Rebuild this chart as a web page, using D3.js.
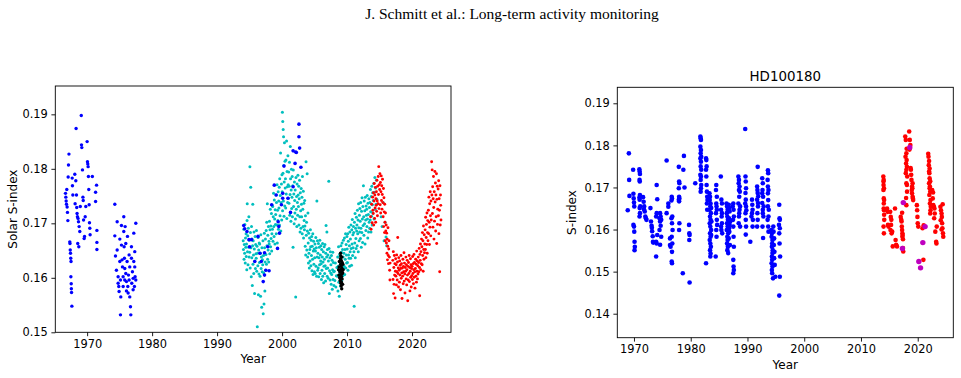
<!DOCTYPE html>
<html>
<head>
<meta charset="utf-8">
<script src="https://cdn.jsdelivr.net/npm/d3@7"></script>
<style>
  body { margin: 0; background: #fff; }
  svg { display: block; }
  text { font-family: "DejaVu Sans", sans-serif; }
</style>
</head>
<body>
<script>
// page size
const width = 961,
  height = 378;

// ---- data: solar S-index ([year, S]) ----
const solarBlueEarly = [
  [1966.67,.1755],[1966.72,.1748],[1966.77,.1741],[1966.82,.1735],[1966.87,.1762],[1966.92,.1730],[1966.97,.1720],
  [1967.03,.1705],[1967.08,.1785],[1967.13,.1807],[1967.2,.1827],[1967.33,.1666],[1967.36,.1663],[1967.4,.1651],
  [1967.44,.1645],[1967.48,.1636],[1967.52,.1630],[1967.5,.1602],[1967.55,.1589],[1967.57,.1580],[1967.6,.1573],
  [1967.65,.1548],[1967.7,.1783],[1967.74,.1769],[1967.8,.1752],
  [1968.1,.1790],[1968.15,.1736],[1968.26,.1778],[1968.3,.1874],[1968.36,.1752],[1968.4,.1729],[1968.45,.1718],
  [1968.51,.1712],[1968.55,.1663],[1968.6,.1709],[1968.67,.1703],[1968.72,.1657],[1968.77,.1694],[1968.87,.1685],
  [1968.95,.1731],[1969.1,.1898],[1969.13,.1844],[1969.18,.1839],[1969.28,.1798],[1969.35,.1748],[1969.4,.1742],
  [1969.45,.1706],[1969.54,.1672],[1969.6,.1676],[1969.7,.1712],[1969.79,.1731],
  [1970.0,.1850],[1970.05,.1813],[1970.1,.1809],[1970.15,.1804],[1970.2,.1786],[1970.25,.1762],[1970.31,.1734],
  [1970.36,.1701],[1970.41,.1691],[1970.46,.1679],[1970.8,.1786],[1971.45,.1770],[1971.3,.1757],[1971.3,.1740],
  [1971.5,.1687],[1971.5,.1665],[1971.5,.1652],
  [1974.26,.1735],[1974.26,.1677],[1974.36,.1640],[1974.51,.1614],[1974.62,.1703],[1974.62,.1651],[1974.77,.1602],
  [1974.77,.1590],[1974.87,.1584],[1974.92,.1575],[1975.03,.1671],[1975.03,.1630],[1975.13,.1532],[1975.13,.1596],
  [1975.18,.1565],[1975.28,.1696],[1975.28,.1660],[1975.38,.1633],[1975.44,.1620],[1975.54,.1602],[1975.54,.1584],
  [1975.64,.1685],[1975.64,.1712],[1975.69,.1657],[1975.74,.1636],[1975.79,.1617],[1975.79,.1596],[1975.85,.1694],
  [1975.95,.1663],[1975.95,.1608],[1976.05,.1593],[1976.05,.1576],[1976.15,.1630],[1976.21,.1676],[1976.26,.1584],
  [1976.31,.1572],[1976.36,.1605],[1976.46,.1642],[1976.46,.1596],[1976.56,.1620],[1976.56,.1565],[1976.67,.1547],
  [1976.72,.1532],[1976.82,.1657],[1976.82,.1636],[1976.87,.1590],[1976.97,.1611],[1977.08,.1599],[1977.08,.1578],
  [1977.18,.1682],[1977.18,.1630],[1977.28,.1584],[1977.33,.1620],[1977.33,.1648],[1977.38,.1602],[1977.49,.1700],
  [1977.49,.1596]
];

const solarBlueLate = [
  [1994.1,.1696],[1994.25,.1690],[1994.6,.1685],[1994.9,.1670],[1995.0,.1657],[1995.3,.1670],[1995.8,.1630],
  [1996.3,.1676],[1996.6,.1645],[1996.8,.1630],[1997.1,.1593],[1997.3,.1605],[1997.5,.1614],[1998.0,.1613],
  [1997.3,.1646],[1997.8,.1657],[1998.4,.1734],[1998.8,.1770],[1999.1,.1752],[1999.3,.1654],[1999.5,.1694],
  [1999.6,.1682],[1999.9,.1734],[2000.1,.1746],[2000.1,.1755],[2000.3,.1805],[2000.9,.1746],[2001.3,.1720],
  [2001.7,.1767],[2001.7,.1833],[2002.0,.1810],[2002.2,.1830],[2002.6,.1882],[2002.6,.1859],[2002.7,.1838],
  [2002.9,.1803],[2002.1,.1831],[1999.4,.1703]
];

const solarCyan = [
  [1994.02,.1668],[1994.06,.1652],[1994.11,.1689],[1994.15,.1634],[1994.19,.1661],[1994.24,.1645],[1994.28,.1698],[1994.33,.1627],[1994.37,.1673],[1994.42,.1656],[1994.46,.1681],[1994.49,.1639],
  [1994.53,.1662],[1994.57,.1615],[1994.61,.1705],[1994.64,.1736],[1994.68,.1648],[1994.72,.1677],[1994.76,.1624],[1994.81,.1691],[1994.85,.1656],[1994.89,.1712],[1994.93,.1638],[1994.97,.1669],
  [1995.02,.1647],[1995.05,.1804],[1995.09,.1618],[1995.13,.1683],[1995.18,.1766],[1995.21,.1655],[1995.26,.1602],[1995.3,.1694],[1995.34,.1637],[1995.38,.1671],[1995.42,.1586],[1995.46,.1659],[1995.49,.1735],
  [1995.52,.1625],[1995.56,.1668],[1995.6,.1642],[1995.64,.1608],[1995.68,.1684],[1995.73,.1653],[1995.77,.1571],[1995.81,.1631],[1995.85,.1676],[1995.9,.1617],[1995.94,.1661],[1995.98,.1644],
  [1996.02,.1636],[1996.06,.1687],[1996.1,.1612],[1996.14,.1658],[1996.19,.1510],[1996.23,.1645],[1996.27,.1622],[1996.31,.1674],[1996.36,.1569],[1996.4,.1651],[1996.44,.1607],[1996.48,.1664],
  [1996.52,.1628],[1996.56,.1662],[1996.61,.1603],[1996.65,.1645],[1996.69,.1566],[1996.73,.1679],[1996.78,.1617],[1996.82,.1638],[1996.86,.1546],[1996.9,.1655],[1996.95,.1611],[1996.98,.1633],
  [1997.02,.1624],[1997.06,.1668],[1997.1,.1534],[1997.14,.1641],[1997.18,.1609],[1997.22,.1552],[1997.27,.1682],[1997.31,.1655],[1997.35,.1576],[1997.39,.1629],[1997.44,.1671],[1997.48,.1614],
  [1997.52,.1643],[1997.56,.1687],[1997.6,.1625],[1997.64,.1702],[1997.68,.1659],[1997.73,.1736],[1997.77,.1634],[1997.81,.1678],[1997.85,.1651],[1997.9,.1694],[1997.94,.1629],[1997.98,.1667],
  [1998.02,.1662],[1998.06,.1704],[1998.1,.1644],[1998.14,.1688],[1998.19,.1726],[1998.23,.1657],[1998.27,.1695],[1998.31,.1672],[1998.36,.1718],[1998.4,.1649],[1998.44,.1681],[1998.48,.1733],
  [1998.52,.1689],[1998.56,.1731],[1998.6,.1667],[1998.64,.1712],[1998.69,.1755],[1998.73,.1694],[1998.77,.1676],[1998.81,.1743],[1998.86,.1708],[1998.9,.1662],[1998.94,.1725],[1998.98,.1698],
  [1999.02,.1716],[1999.06,.1752],[1999.1,.1681],[1999.14,.1738],[1999.19,.1697],[1999.23,.1771],[1999.27,.1664],[1999.31,.1724],[1999.36,.1705],[1999.4,.1758],[1999.44,.1689],[1999.48,.1741],
  [1999.52,.1728],[1999.56,.1766],[1999.6,.1697],[1999.64,.1782],[1999.69,.1714],[1999.73,.1751],[1999.77,.1829],[1999.81,.1686],[1999.86,.1738],[1999.9,.1772],[1999.94,.1706],[1999.98,.1789],
  [2000.02,.1758],[2000.05,.1904],[2000.08,.1723],[2000.11,.1887],[2000.14,.1792],[2000.17,.1872],[2000.2,.1741],[2000.23,.1859],[2000.26,.1806],[2000.3,.1713],[2000.33,.1776],[2000.37,.1848],[2000.41,.1732],[2000.45,.1814],[2000.48,.1765],
  [2000.52,.1782],[2000.56,.1728],[2000.6,.1816],[2000.64,.1754],[2000.69,.1851],[2000.73,.1709],[2000.77,.1795],[2000.81,.1767],[2000.86,.1738],[2000.9,.1824],[2000.94,.1771],[2000.98,.1746],
  [2001.02,.1794],[2001.06,.1737],[2001.1,.1768],[2001.14,.1812],[2001.19,.1715],[2001.23,.1753],[2001.27,.1841],[2001.31,.1782],[2001.36,.1704],[2001.4,.1761],[2001.44,.1799],[2001.48,.1727],
  [2001.52,.1748],[2001.56,.1786],[2001.6,.1712],[2001.64,.1769],[2001.69,.1656],[2001.73,.1798],[2001.77,.1731],[2001.81,.1754],[2001.86,.1699],[2001.9,.1776],[2001.94,.1742],[2001.98,.1719],
  [2002.02,.1761],[2002.06,.1708],[2002.1,.1565],[2002.14,.1784],[2002.19,.1726],[2002.23,.1749],[2002.27,.1694],[2002.31,.1772],[2002.36,.1738],[2002.4,.1715],[2002.44,.1788],[2002.48,.1752],
  [2002.52,.1731],[2002.56,.1768],[2002.6,.1697],[2002.64,.1745],[2002.69,.1779],[2002.73,.1712],[2002.77,.1684],[2002.81,.1756],[2002.86,.1723],[2002.9,.1691],[2002.94,.1764],[2002.98,.1735],
  [2003.02,.1712],[2003.06,.1748],[2003.1,.1681],[2003.14,.1786],[2003.19,.1726],[2003.23,.1694],[2003.27,.1759],[2003.31,.1673],[2003.36,.1737],[2003.4,.1705],[2003.44,.1688],[2003.48,.1742],
  [2003.52,.1695],[2003.56,.1658],[2003.6,.1714],[2003.64,.1642],[2003.69,.1813],[2003.73,.1678],[2003.77,.1702],[2003.81,.1651],[2003.86,.1791],[2003.9,.1686],[2003.94,.1638],[2003.98,.1719],
  [2004.02,.1664],[2004.06,.1627],[2004.1,.1682],[2004.14,.1645],[2004.19,.1618],[2004.23,.1673],[2004.27,.1652],[2004.31,.1631],[2004.36,.1688],[2004.4,.1657],[2004.44,.1622],[2004.48,.1669],
  [2004.52,.1641],[2004.56,.1676],[2004.6,.1613],[2004.64,.1658],[2004.69,.1634],[2004.73,.1681],[2004.77,.1606],[2004.81,.1649],[2004.86,.1667],[2004.9,.1625],[2004.94,.1653],[2004.98,.1611],
  [2005.02,.1637],[2005.06,.1662],[2005.1,.1608],[2005.14,.1649],[2005.19,.1674],[2005.23,.1621],[2005.27,.1655],[2005.31,.1603],[2005.36,.1741],[2005.4,.1638],[2005.44,.1668],[2005.48,.1614],
  [2005.52,.1645],[2005.56,.1618],[2005.6,.1663],[2005.64,.1602],[2005.69,.1637],[2005.73,.1656],[2005.77,.1624],[2005.81,.1669],[2005.86,.1608],[2005.9,.1642],[2005.94,.1631],[2005.98,.1659],
  [2006.02,.1626],[2006.06,.1597],[2006.1,.1652],[2006.14,.1614],[2006.19,.1638],[2006.23,.1663],[2006.27,.1603],[2006.31,.1629],[2006.36,.1648],[2006.4,.1591],[2006.44,.1621],[2006.48,.1657],
  [2006.52,.1634],[2006.56,.1608],[2006.6,.1661],[2006.64,.1622],[2006.69,.1594],[2006.73,.1645],[2006.77,.1696],[2006.81,.1617],[2006.86,.1638],[2006.9,.1684],[2006.94,.1603],[2006.98,.1652],
  [2007.02,.1618],[2007.06,.1642],[2007.1,.1599],[2007.14,.1631],[2007.19,.1777],[2007.23,.1654],[2007.27,.1571],[2007.31,.1613],[2007.36,.1637],[2007.4,.1596],[2007.44,.1648],[2007.48,.1609],
  [2007.52,.1624],[2007.56,.1588],[2007.6,.1641],[2007.64,.1606],[2007.69,.1632],[2007.73,.1579],[2007.77,.1615],[2007.81,.1647],[2007.86,.1597],[2007.9,.1628],[2007.94,.1611],[2007.98,.1586],
  [2008.04,.1612],[2008.12,.1595],[2008.2,.1627],[2008.28,.1583],[2008.36,.1604],[2008.44,.1619],
  [2008.52,.1603],[2008.56,.1638],[2008.6,.1576],[2008.64,.1621],[2008.69,.1657],[2008.73,.1592],[2008.77,.1614],[2008.81,.1566],[2008.86,.1643],[2008.9,.1608],[2008.94,.1629],[2008.98,.1585],
  [2009.02,.1632],[2009.06,.1659],[2009.1,.1611],[2009.14,.1647],[2009.19,.1594],[2009.23,.1664],[2009.27,.1625],[2009.31,.1652],[2009.36,.1604],[2009.4,.1638],[2009.44,.1669],[2009.48,.1617],
  [2009.52,.1645],[2009.56,.1621],[2009.6,.1673],[2009.64,.1606],[2009.69,.1652],[2009.73,.1634],[2009.77,.1681],[2009.81,.1618],[2009.86,.1661],[2009.9,.1642],[2009.94,.1627],[2009.98,.1676],
  [2010.02,.1653],[2010.06,.1628],[2010.1,.1681],[2010.14,.1614],[2010.19,.1667],[2010.23,.1642],[2010.27,.1693],[2010.31,.1636],[2010.36,.1659],[2010.4,.1621],[2010.44,.1684],[2010.48,.1648],
  [2010.52,.1671],[2010.56,.1636],[2010.6,.1697],[2010.64,.1654],[2010.69,.1623],[2010.73,.1688],[2010.77,.1662],[2010.81,.1707],[2010.86,.1641],[2010.9,.1679],[2010.94,.1655],[2010.98,.1694],
  [2011.02,.1683],[2011.06,.1648],[2011.1,.1548],[2011.14,.1702],[2011.19,.1664],[2011.23,.1718],[2011.27,.1637],[2011.31,.1691],[2011.36,.1672],[2011.4,.1654],[2011.44,.1711],[2011.48,.1686],
  [2011.52,.1697],[2011.56,.1659],[2011.6,.1724],[2011.64,.1681],[2011.69,.1706],[2011.73,.1648],[2011.77,.1736],[2011.81,.1692],[2011.86,.1668],[2011.9,.1715],[2011.94,.1684],[2011.98,.1727],
  [2012.02,.1704],[2012.06,.1672],[2012.1,.1738],[2012.14,.1691],[2012.19,.1656],[2012.23,.1722],[2012.27,.1683],[2012.31,.1747],[2012.36,.1708],[2012.4,.1665],[2012.44,.1731],[2012.48,.1696],
  [2012.52,.1769],[2012.56,.1712],[2012.6,.1678],[2012.64,.1741],[2012.69,.1699],[2012.73,.1723],[2012.77,.1662],[2012.81,.1748],[2012.86,.1706],[2012.9,.1687],[2012.94,.1732],[2012.98,.1715],
  [2013.02,.1726],[2013.06,.1694],[2013.1,.1751],[2013.14,.1708],[2013.19,.1673],[2013.23,.1737],[2013.27,.1716],[2013.31,.1684],[2013.36,.1745],[2013.4,.1702],[2013.44,.1729],[2013.48,.1691],
  [2013.52,.1738],[2013.56,.1706],[2013.6,.1762],[2013.64,.1721],[2013.69,.1684],[2013.73,.1749],[2013.77,.1713],[2013.81,.1768],[2013.86,.1697],[2013.9,.1734],[2013.94,.1756],[2013.98,.1719],
  [2014.04,.1742],[2014.1,.1773],[2014.16,.1708],[2014.22,.1757],[2014.28,.1784],[2014.34,.1726],[2014.4,.1765],[2014.46,.1735],[2014.52,.1779],[2014.58,.1744],
  [2015.25,.1712],[2015.4,.1694],[2015.55,.1738],[2015.7,.1668],[2015.85,.1702],[2016.0,.1675],[2016.1,.1659]
];

const solarBlack = [
  [2008.7,.1615],[2008.78,.1620],[2008.74,.1605],[2008.82,.1630],[2008.86,.1600],[2008.9,.1612],
  [2009.0,.1645],[2009.02,.1640],[2008.98,.1635],[2009.01,.1625],[2009.03,.1615],[2008.95,.1610],[2009.06,.1605],
  [2009.0,.1600],[2009.04,.1590],[2008.94,.1595],[2009.1,.1632],[2009.12,.1622],[2009.08,.1612],[2009.15,.1602],
  [2009.13,.1592],[2009.1,.1585],[2009.18,.1580],[2009.2,.1638],[2009.25,.1628],[2009.18,.1618],[2009.28,.1608],
  [2009.24,.1598],[2009.32,.1588],[2009.36,.1625],[2009.4,.1615],[2009.3,.1610]
];

const solarRed = [
  [2013.62,.1712],[2013.7,.1689],[2013.78,.1735],[2013.86,.1701],[2013.94,.1748],[2013.98,.1724],
  [2014.03,.1718],[2014.07,.1756],[2014.11,.1697],[2014.15,.1741],[2014.19,.1773],[2014.24,.1709],[2014.28,.1752],[2014.32,.1728],[2014.36,.1766],[2014.41,.1702],[2014.45,.1745],[2014.49,.1733],
  [2014.52,.1758],[2014.56,.1722],[2014.6,.1779],[2014.64,.1741],[2014.68,.1714],[2014.72,.1768],[2014.76,.1736],[2014.8,.1786],[2014.84,.1753],[2014.88,.1804],[2014.92,.1727],[2014.96,.1771],
  [2015.02,.1762],[2015.06,.1791],[2015.1,.1734],[2015.14,.1775],[2015.18,.1719],[2015.22,.1758],[2015.26,.1787],[2015.3,.1742],[2015.34,.1769],[2015.38,.1726],[2015.42,.1753],[2015.46,.1781],
  [2015.52,.1738],[2015.56,.1712],[2015.6,.1764],[2015.64,.1694],[2015.68,.1747],[2015.72,.1721],[2015.76,.1683],[2015.8,.1735],[2015.84,.1702],[2015.88,.1668],[2015.92,.1719],[2015.96,.1686],
  [2016.02,.1697],[2016.06,.1664],[2016.1,.1682],[2016.14,.1645],[2016.18,.1671],[2016.22,.1633],[2016.26,.1658],[2016.3,.1692],[2016.34,.1641],[2016.38,.1626],[2016.42,.1653],[2016.46,.1668],
  [2016.52,.1638],[2016.56,.1614],[2016.6,.1596],[2016.63,.1627],
  [2017.04,.1632],[2017.08,.1597],[2017.12,.1648],[2017.16,.1571],[2017.2,.1619],[2017.24,.1588],[2017.28,.1641],[2017.32,.1605],[2017.36,.1626],[2017.4,.1563],[2017.44,.1612],[2017.48,.1635],
  [2017.52,.1603],[2017.56,.1624],[2017.6,.1587],[2017.64,.1642],[2017.68,.1611],[2017.72,.1596],[2017.76,.1629],[2017.8,.1674],[2017.84,.1608],[2017.88,.1618],[2017.92,.1583],[2017.96,.1637],
  [2018.02,.1614],[2018.06,.1592],[2018.1,.1631],[2018.14,.1605],[2018.18,.1623],[2018.22,.1578],[2018.26,.1617],[2018.3,.1641],[2018.34,.1599],[2018.38,.1626],[2018.42,.1609],[2018.46,.1562],
  [2018.52,.1618],[2018.56,.1603],[2018.6,.1634],[2018.64,.1589],[2018.68,.1621],[2018.72,.1611],[2018.76,.1646],[2018.8,.1594],[2018.84,.1627],[2018.88,.1607],[2018.92,.1572],[2018.96,.1619],
  [2019.02,.1612],[2019.06,.1638],[2019.1,.1598],[2019.14,.1624],[2019.18,.1587],[2019.22,.1615],[2019.26,.1632],[2019.3,.1605],[2019.34,.1558],[2019.38,.1621],[2019.42,.1596],[2019.46,.1628],
  [2019.52,.1608],[2019.56,.1641],[2019.6,.1593],[2019.64,.1619],[2019.68,.1576],[2019.72,.1612],[2019.76,.1635],[2019.8,.1601],[2019.84,.1624],[2019.88,.1583],[2019.92,.1617],[2019.96,.1604],
  [2020.02,.1621],[2020.06,.1597],[2020.1,.1639],[2020.14,.1608],[2020.18,.1626],[2020.22,.1589],[2020.26,.1615],[2020.3,.1643],[2020.34,.1601],[2020.38,.1628],[2020.42,.1611],[2020.46,.1581],
  [2020.52,.1617],[2020.56,.1634],[2020.6,.1603],[2020.64,.1625],[2020.68,.1592],[2020.72,.1649],[2020.76,.1612],[2020.8,.1631],[2020.84,.1598],[2020.88,.1622],[2020.92,.1607],[2020.96,.1638],
  [2021.02,.1628],[2021.06,.1611],[2021.1,.1654],[2021.14,.1619],[2021.18,.1567],[2021.22,.1643],[2021.26,.1632],[2021.3,.1662],[2021.34,.1615],[2021.38,.1648],[2021.42,.1626],[2021.46,.1671],
  [2021.52,.1657],[2021.56,.1624],[2021.6,.1683],[2021.64,.1641],[2021.68,.1668],[2021.72,.1612],[2021.76,.1695],[2021.8,.1652],[2021.84,.1634],[2021.88,.1679],[2021.92,.1646],[2021.96,.1662],
  [2022.02,.1688],[2022.06,.1652],[2022.1,.1711],[2022.14,.1637],[2022.18,.1674],[2022.22,.1698],[2022.26,.1661],[2022.3,.1719],[2022.34,.1645],[2022.38,.1683],[2022.42,.1705],[2022.46,.1668],
  [2022.52,.1724],[2022.56,.1681],[2022.6,.1748],[2022.64,.1702],[2022.68,.1661],[2022.72,.1736],[2022.76,.1693],[2022.8,.1758],[2022.84,.1714],[2022.88,.1677],[2022.92,.1741],[2022.96,.1706],
  [2023.02,.1813],[2023.06,.1752],[2023.1,.1798],[2023.14,.1718],[2023.18,.1767],[2023.22,.1693],[2023.26,.1745],[2023.3,.1786],[2023.34,.1729],[2023.38,.1671],[2023.42,.1758],[2023.46,.1704],
  [2023.52,.1795],[2023.56,.1739],[2023.6,.1774],[2023.64,.1686],[2023.68,.1752],[2023.72,.1712],[2023.76,.1791],[2023.8,.1663],[2023.84,.1744],[2023.88,.1768],[2023.92,.1698],[2023.96,.1726],
  [2024.02,.1763],[2024.06,.1714],[2024.1,.1778],[2024.14,.1681],[2024.18,.1745],[2024.22,.1724],[2024.26,.1611],[2024.3,.1769],[2024.34,.1697],[2024.38,.1752],[2024.42,.1733],[2024.46,.1706]
];

// ---- data: HD100180 S-index ([year, S]) ----
const hdBlue = [
  [1968.9,.1646],[1969.1,.1781],[1969.15,.1718],[1969.2,.1680],
  [1969.85,.1742],[1969.9,.1685],[1969.95,.1674],[1970.0,.1664],[1970.05,.1655],[1969.9,.1611],[1970.0,.1607],[1970.05,.1595],[1970.1,.1571],[1970.15,.1559],[1970.1,.1551],
  [1970.95,.1743],[1971.0,.1738],[1971.05,.1732],[1970.98,.1718],[1971.02,.1714],[1971.05,.1682],[1970.95,.1676],[1971.0,.1671],[1971.1,.1655],[1971.0,.1651],[1971.05,.1639],[1970.98,.1631],
  [1971.6,.1677],[1971.7,.1666],[1971.8,.1655],[1971.75,.1648],[1971.9,.1643],[1972.0,.1631],[1972.1,.1627],[1972.2,.1623],
  [1972.9,.1651],[1973.0,.1619],[1973.1,.1609],[1973.15,.1604],[1973.2,.1596],[1973.3,.1584],[1973.35,.1571],[1973.4,.1569],
  [1974.0,.1706],[1974.1,.1672],[1974.0,.1639],[1973.9,.1631],[1974.1,.1587],[1973.9,.1571],[1974.0,.1567],[1973.9,.1536],
  [1974.6,.1639],[1974.7,.1631],[1974.5,.1627],[1974.8,.1623],[1974.6,.1619],[1974.7,.1609],[1974.5,.1599],[1974.8,.1583],[1974.6,.1564],
  [1975.75,.1764],[1976.05,.1662],[1976.05,.1654],[1975.75,.1639],[1976.35,.1579],[1976.35,.1563],[1976.45,.1559],
  [1976.65,.1678],[1976.7,.1674],[1976.6,.1669],[1976.75,.1631],[1976.6,.1627],[1976.7,.1615],[1976.8,.1599],[1976.65,.1583],[1976.75,.1567],[1976.7,.1547],[1976.65,.1524],[1976.7,.1520],
  [1977.9,.1749],[1977.95,.1714],[1978.0,.1710],[1977.9,.1698],[1977.95,.1678],[1978.0,.1674],[1977.9,.1671],[1977.95,.1667],[1978.0,.1615],[1977.95,.1599],
  [1978.7,.1742],[1978.8,.1775],[1978.9,.1700],[1978.6,.1496],
  [1979.7,.1611],[1979.75,.1591],[1979.8,.1587],[1979.75,.1575],[1979.8,.1474],
  [1980.8,.1710],
  [1981.7,.1821],[1981.75,.1817],[1981.8,.1813],[1981.7,.1797],[1981.8,.1789],[1981.75,.1781],[1981.85,.1773],[1981.7,.1769],[1981.8,.1761],[1981.75,.1750],[1981.85,.1742],[1981.7,.1730],[1981.8,.1726],[1981.75,.1718],[1981.85,.1706],[1981.8,.1698],[1981.75,.1690],
  [1982.7,.1769],[1982.75,.1765],[1982.8,.1750],[1982.7,.1742],[1982.75,.1726],[1982.8,.1706],[1982.85,.1690],[1982.9,.1678],[1982.95,.1670],[1982.85,.1662],[1982.9,.1647],[1982.7,.1520],
  [1983.3,.1686],[1983.4,.1678],[1983.35,.1670],[1983.5,.1662],[1983.45,.1655],[1983.3,.1647],[1983.55,.1639],[1983.4,.1631],[1983.5,.1623],[1983.35,.1615],[1983.45,.1607],[1983.6,.1599],[1983.4,.1591],[1983.5,.1583],[1983.35,.1575],[1983.45,.1567],[1983.55,.1559],[1983.4,.1551],[1983.5,.1543],[1983.45,.1536],[1983.6,.1651],[1983.65,.1619],[1983.6,.1587],
  [1984.5,.1706],[1984.45,.1694],[1984.6,.1678],[1984.5,.1662],[1984.55,.1655],[1984.45,.1639],[1984.6,.1623],[1984.5,.1599],[1984.55,.1583],[1984.4,.1536],[1984.65,.1611],[1984.6,.1647],
  [1985.3,.1726],[1985.4,.1671],[1985.5,.1662],[1985.35,.1647],[1985.45,.1631],[1985.5,.1615],[1985.4,.1599],[1985.55,.1591],[1985.5,.1639],[1985.35,.1607],
  [1986.3,.1662],[1986.4,.1655],[1986.5,.1647],[1986.35,.1639],[1986.45,.1631],[1986.55,.1623],[1986.4,.1615],[1986.5,.1607],[1986.35,.1599],[1986.6,.1591],[1986.45,.1583],[1986.5,.1575],[1986.4,.1567],[1986.55,.1559],[1986.45,.1551],[1986.6,.1544],
  [1986.7,.1659],[1986.8,.1651],[1986.75,.1627],[1986.85,.1611],[1986.8,.1595],[1986.7,.1579],[1986.9,.1563],[1986.85,.1643],[1986.95,.1619],[1986.75,.1603],
  [1987.5,.1662],[1987.55,.1647],[1987.6,.1631],[1987.5,.1607],[1987.55,.1583],[1987.6,.1559],[1987.5,.1528],[1987.55,.1512],[1987.6,.1504],[1987.5,.1496],[1987.4,.1655],[1987.45,.1623],
  [1988.4,.1726],[1988.5,.1718],[1988.45,.1710],[1988.6,.1702],[1988.5,.1694],[1988.55,.1678],[1988.4,.1662],[1988.6,.1647],[1988.5,.1631],[1988.45,.1615],[1988.65,.1690],[1988.7,.1655],[1988.55,.1639],[1988.7,.1607],
  [1989.6,.1839],
  [1989.65,.1726],[1989.7,.1714],[1989.75,.1698],[1989.65,.1687],[1989.7,.1671],[1989.75,.1655],[1989.65,.1639],[1989.7,.1623],[1989.75,.1607],[1989.7,.1588],[1989.6,.1662],[1989.8,.1646],
  [1990.5,.1571],[1990.8,.1671],[1990.85,.1659],[1990.9,.1647],[1990.8,.1639],[1990.95,.1623],[1990.9,.1607],[1990.7,.1631],
  [1991.8,.1749],[1991.7,.1702],[1991.75,.1694],[1991.8,.1687],[1991.7,.1671],[1991.85,.1655],[1991.75,.1639],[1991.8,.1623],[1991.7,.1607],[1991.85,.1663],[1991.9,.1679],
  [1992.6,.1722],[1992.7,.1710],[1992.65,.1694],[1992.75,.1678],[1992.6,.1663],[1992.7,.1647],[1992.8,.1631],[1992.65,.1607],[1992.75,.1580],[1992.85,.1655],[1992.7,.1639],[1992.6,.1686],
  [1993.6,.1741],[1993.65,.1734],[1993.55,.1718],[1993.6,.1702],[1993.7,.1694],[1993.65,.1670],[1993.6,.1655],[1993.7,.1631],[1993.55,.1623],[1993.65,.1607],[1993.7,.1595],[1993.6,.1686],[1993.75,.1647],
  [1994.2,.1599],[1994.3,.1591],[1994.25,.1583],[1994.4,.1575],[1994.35,.1567],[1994.3,.1559],[1994.45,.1551],[1994.4,.1544],[1994.3,.1536],[1994.35,.1528],[1994.25,.1520],[1994.4,.1512],[1994.3,.1504],[1994.35,.1496],[1994.5,.1484],
  [1994.6,.1595],[1994.7,.1579],[1994.65,.1563],[1994.75,.1547],[1994.7,.1532],[1994.8,.1516],[1994.9,.1488],[1994.55,.1607],
  [1995.6,.1659],[1995.65,.1627],[1995.7,.1623],[1995.6,.1591],[1995.65,.1567],[1995.75,.1536],[1995.7,.1488],[1995.6,.1443],[1995.55,.1611],[1995.7,.1603]
];

const hdRed = [
  [2013.94,.1726],[2014.0,.1718],[2013.98,.1706],[2014.05,.1698],[2013.96,.1694],[2014.02,.1674],[2014.08,.1670],[2014.0,.1650],[2014.06,.1646],[2014.1,.1623],[2013.98,.1607],[2014.04,.1591],
  [2014.02,.1662],[2013.97,.1714],[2014.08,.1635],
  [2014.6,.1650],[2014.7,.1642],[2014.75,.1611],[2014.85,.1607],
  [2015.15,.1642],[2015.25,.1630],[2015.35,.1623],[2015.2,.1599],[2015.5,.1595],[2015.4,.1591],[2015.6,.1560],[2015.3,.1611],
  [2016.0,.1650],[2016.2,.1564],[2016.35,.1560],[2016.1,.1575],
  [2017.0,.1630],[2017.1,.1623],[2017.15,.1619],[2017.2,.1607],[2017.25,.1599],[2017.3,.1591],[2017.35,.1587],[2017.3,.1583],[2017.4,.1556],[2017.45,.1548],[2017.25,.1640],[2017.4,.1577],
  [2017.8,.1821],[2017.9,.1813],[2018.0,.1781],[2017.85,.1773],[2018.05,.1765],[2017.95,.1757],[2018.1,.1749],[2018.0,.1742],[2017.9,.1734],[2018.15,.1726],[2018.0,.1710],[2018.1,.1706],[2017.95,.1675],
  [2018.05,.1792],[2018.12,.1690],[2018.0,.1658],
  [2018.5,.1833],[2018.6,.1813],[2018.7,.1801],[2018.75,.1746],[2018.8,.1742],[2018.9,.1718],[2019.0,.1702],[2019.05,.1698],[2018.95,.1694],[2019.1,.1678],[2019.15,.1674],[2019.2,.1670],
  [2018.55,.1790],[2018.85,.1730],[2019.0,.1686],[2019.1,.1710],
  [2019.85,.1658],[2019.9,.1646],[2020.0,.1615],[2020.1,.1607],[2019.95,.1630],
  [2020.85,.1603],[2021.0,.1528],[2021.05,.1610],
  [2021.85,.1780],[2021.9,.1773],[2021.95,.1753],[2022.0,.1738],[2022.05,.1734],[2022.1,.1722],[2022.0,.1710],[2022.15,.1702],[2022.1,.1698],[2022.2,.1690],[2022.05,.1682],[2022.25,.1670],[2022.15,.1662],[2022.3,.1654],[2022.2,.1638],
  [2022.0,.1763],[2022.1,.1745],[2022.2,.1715],[2022.25,.1646],
  [2022.55,.1694],[2022.65,.1674],[2022.75,.1658],[2022.85,.1654],[2022.95,.1650],[2023.0,.1638],[2023.1,.1595],[2023.25,.1571],[2023.3,.1567],
  [2022.7,.1688],[2022.9,.1627],[2023.35,.1607],
  [2024.0,.1654],[2024.1,.1646],[2024.2,.1638],[2024.25,.1630],[2024.3,.1615],[2024.35,.1603],[2024.45,.1591],[2024.5,.1583],
  [2024.05,.1622],[2024.4,.1660],[2024.2,.1600]
];

const hdMagenta = [
  [2017.46,.1664],[2018.6,.1795],[2017.3,.1555],[2020.2,.1524],[2020.5,.1509],[2020.9,.1569],[2021.3,.1607]
];

// ticks
const yearTicks = [1970, 1980, 1990, 2000, 2010, 2020];
const solarYTicks = [0.15, 0.16, 0.17, 0.18, 0.19];
const hdYTicks = [0.14, 0.15, 0.16, 0.17, 0.18, 0.19];

const svg = d3
  .select("body")
  .append("svg")
  .attr("width", width)
  .attr("height", height);

svg.append("rect").attr("width", width).attr("height", height).attr("fill", "#fff");

// page header
svg
  .append("text")
  .attr("x", 512)
  .attr("y", 19)
  .attr("text-anchor", "middle")
  .style("font-family", "'Liberation Serif', serif")
  .style("font-size", "15.5px")
  .text("J. Schmitt et al.: Long-term activity monitoring");

// draw one panel
function panel(opt) {
  const xScale = d3.scaleLinear().domain(opt.xDomain).range([opt.left, opt.right]);
  const yScale = d3.scaleLinear().domain(opt.yDomain).range([opt.bottom, opt.top]);

  const g = svg.append("g");

  // points
  opt.series.forEach((s) => {
    g.append("g")
      .attr("fill", s.color)
      .selectAll("circle")
      .data(s.data)
      .enter()
      .append("circle")
      .attr("cx", (d) => xScale(d[0]))
      .attr("cy", (d) => yScale(d[1]))
      .attr("r", s.r);
  });

  const xAxis = d3
    .axisBottom(xScale)
    .tickValues(yearTicks)
    .tickFormat(d3.format("d"))
    .tickSizeInner(3.9)
    .tickSizeOuter(0)
    .tickPadding(3.6);
  const yAxis = d3
    .axisLeft(yScale)
    .tickValues(opt.yTicks)
    .tickFormat(d3.format(".2f"))
    .tickSizeInner(3.9)
    .tickSizeOuter(0)
    .tickPadding(3.6);

  const gx = g.append("g").attr("transform", `translate(0,${opt.bottom})`).call(xAxis);
  const gy = g.append("g").attr("transform", `translate(${opt.left},0)`).call(yAxis);
  [gx, gy].forEach((a) => {
    a.select(".domain").remove();
    a.selectAll("line").attr("stroke", "#000").attr("stroke-width", 0.9);
    a.selectAll("text")
      .attr("fill", "#000")
      .style("font-family", "'DejaVu Sans', sans-serif")
      .style("font-size", "11.4px");
  });

  // frame
  g.append("rect")
    .attr("x", opt.left)
    .attr("y", opt.top)
    .attr("width", opt.right - opt.left)
    .attr("height", opt.bottom - opt.top)
    .attr("fill", "none")
    .attr("stroke", "#000")
    .attr("stroke-width", 0.9);

  // labels
  g.append("text")
    .attr("x", (opt.left + opt.right) / 2)
    .attr("y", opt.bottom + 31)
    .attr("text-anchor", "middle")
    .style("font-size", "12px")
    .text("Year");

  g.append("text")
    .attr("transform", `translate(${opt.ylabelX},${(opt.top + opt.bottom) / 2}) rotate(-90)`)
    .attr("text-anchor", "middle")
    .style("font-size", "12px")
    .text(opt.ylabel);

  if (opt.title) {
    g.append("text")
      .attr("x", (opt.left + opt.right) / 2)
      .attr("y", opt.top - 6)
      .attr("text-anchor", "middle")
      .style("font-size", "13.4px")
      .text(opt.title);
  }
}

panel({
  left: 55.3, right: 451, top: 86, bottom: 332.3,
  xDomain: [1965.1, 2026.0],
  yDomain: [0.15, 0.1952],
  yTicks: solarYTicks,
  ylabel: "Solar S-index",
  ylabelX: 16.5,
  series: [
    { data: solarCyan, color: "#00bfbf", r: 1.5 },
    { data: solarRed, color: "#ff0000", r: 1.45 },
    { data: solarBlack, color: "#000000", r: 1.7 },
    { data: solarBlueLate, color: "#0000ff", r: 1.8 },
    { data: solarBlueEarly, color: "#0000ff", r: 1.7 }
  ]
});

panel({
  left: 617.3, right: 953.3, top: 87.3, bottom: 337.7,
  xDomain: [1967.06, 2026.27],
  yDomain: [0.1343, 0.1938],
  yTicks: hdYTicks,
  ylabel: "S-index",
  ylabelX: 576,
  title: "HD100180",
  series: [
    { data: hdBlue, color: "#0000ff", r: 2.3 },
    { data: hdRed, color: "#ff0000", r: 2.3 },
    { data: hdMagenta, color: "#bf00bf", r: 2.7 }
  ]
});
</script>
</body>
</html>
